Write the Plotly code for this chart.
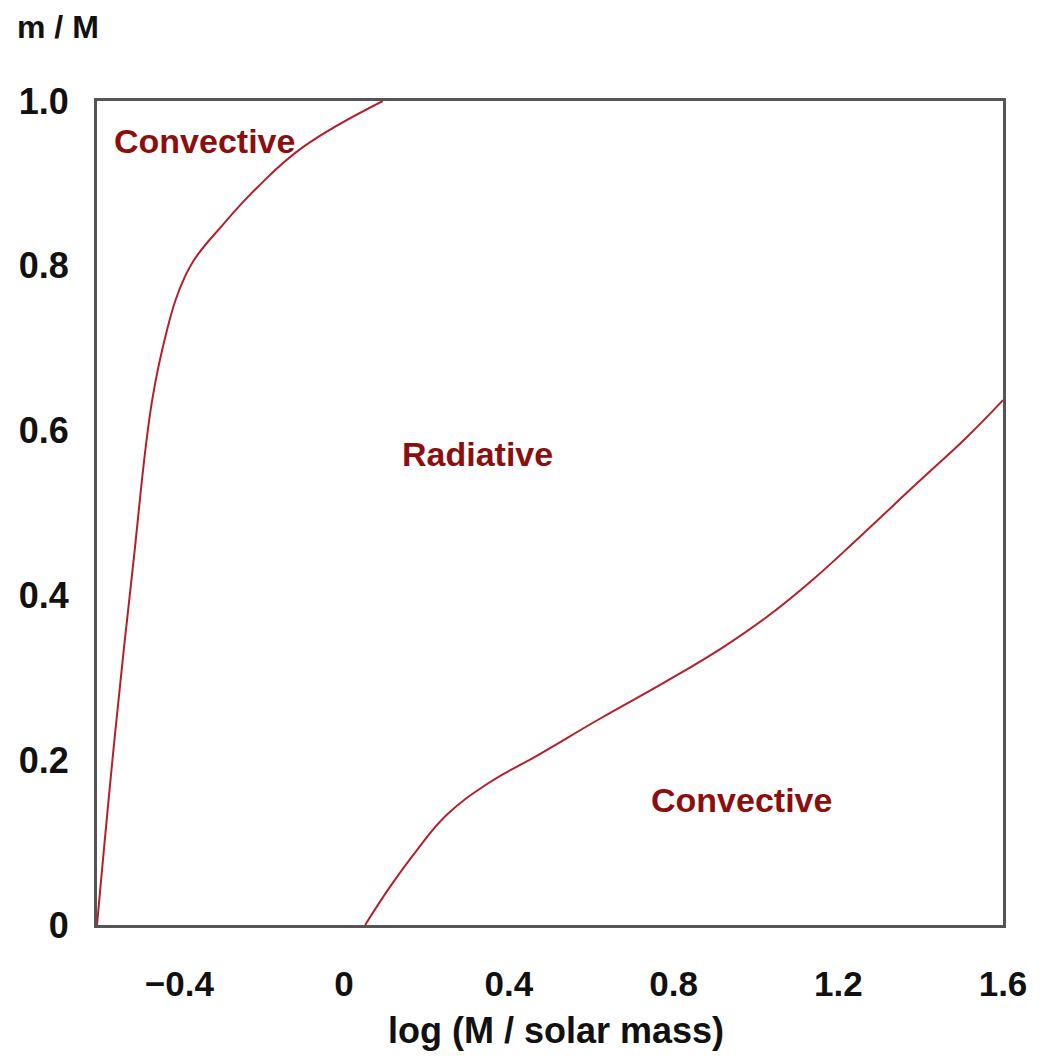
import plotly.graph_objects as go

# Boundary between convective envelope and radiative zone (left curve)
left_x = [-0.6, -0.556, -0.513, -0.466, -0.428, -0.403, -0.367, -0.294, -0.211, -0.100, 0.094]
left_y = [0.0, 0.233, 0.434, 0.637, 0.726, 0.767, 0.805, 0.850, 0.895, 0.944, 1.0]

# Boundary of convective core (right curve)
right_x = [0.051, 0.111, 0.177, 0.25, 0.35, 0.47, 0.62, 0.78, 0.92, 1.027, 1.138, 1.252, 1.391, 1.512, 1.6]
right_y = [0.0, 0.046, 0.091, 0.134, 0.172, 0.206, 0.250, 0.295, 0.337, 0.374, 0.419, 0.471, 0.536, 0.592, 0.637]

x_ticks = [-0.4, 0, 0.4, 0.8, 1.2, 1.6]
x_tick_text = ["\u22120.4", "0", "0.4", "0.8", "1.2", "1.6"]
y_ticks = [0, 0.2, 0.4, 0.6, 0.8, 1.0]
y_tick_text = ["0", "0.2", "0.4", "0.6", "0.8", "1.0"]

region_labels = ["Convective", "Radiative", "Convective"]
region_x = [-0.338, 0.325, 0.964]
region_y = [0.951, 0.572, 0.152]

LINE = "#b3202a"
TXT = "#8c0f0f"
FONT = "Liberation Sans, Arial, sans-serif"

fig = go.Figure()
fig.add_trace(go.Scatter(x=left_x, y=left_y, mode="lines",
                         line=dict(color=LINE, width=2, shape="spline", smoothing=1.2),
                         showlegend=False, hoverinfo="skip"))
fig.add_trace(go.Scatter(x=right_x, y=right_y, mode="lines",
                         line=dict(color=LINE, width=2, shape="spline", smoothing=1.2),
                         showlegend=False, hoverinfo="skip"))

for t, x, y in zip(region_labels, region_x, region_y):
    fig.add_annotation(x=x, y=y, xref="x", yref="y", text="<b>" + t + "</b>",
                       showarrow=False, font=dict(family=FONT, size=34, color=TXT),
                       xanchor="center", yanchor="middle")

fig.add_annotation(x=-0.0905, y=1.0898, xref="paper", yref="paper", text="<b>m / M</b>",
                   showarrow=False, font=dict(family=FONT, size=32, color="#111"),
                   xanchor="left", yanchor="middle")
fig.add_annotation(x=0.507, y=-0.128, xref="paper", yref="paper", text="<b>log (M / solar mass)</b>",
                   showarrow=False, font=dict(family=FONT, size=36, color="#111"),
                   xanchor="center", yanchor="middle")

fig.update_xaxes(range=[-0.6, 1.6], tickvals=x_ticks, ticktext=["<b>%s</b>" % s for s in x_tick_text],
                 showgrid=False, zeroline=False, showline=True, mirror=True,
                 linecolor="#555", linewidth=3, ticks="", ticklabelstandoff=26,
                 tickfont=dict(family=FONT, size=35, color="#111"))
fig.update_yaxes(range=[0, 1.0], tickvals=y_ticks, ticktext=["<b>%s</b>" % s for s in y_tick_text],
                 showgrid=False, zeroline=False, showline=True, mirror=True,
                 linecolor="#555", linewidth=3, ticks="", ticklabelstandoff=18,
                 tickfont=dict(family=FONT, size=36, color="#111"))

fig.update_layout(width=1042, height=1061, margin=dict(l=97, r=39, t=101, b=136),
                  paper_bgcolor="white", plot_bgcolor="white")

fig.write_html("out.html")
